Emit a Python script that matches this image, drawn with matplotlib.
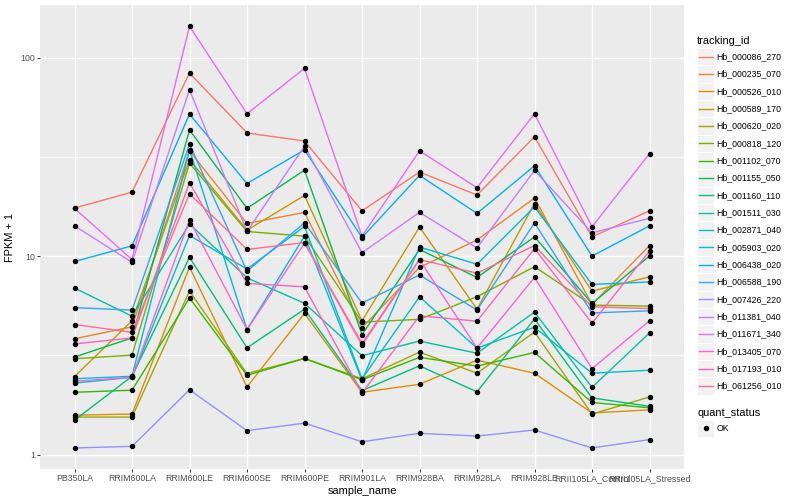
import matplotlib
matplotlib.use('Agg')
import matplotlib.pyplot as plt
from matplotlib.patches import Rectangle
from matplotlib.lines import Line2D
from matplotlib.ticker import FixedLocator, NullFormatter

plt.rcParams['font.family'] = ['Liberation Sans', 'DejaVu Sans']

samples = ['PB350LA', 'RRIM600LA', 'RRIM600LE', 'RRIM600SE', 'RRIM600PE', 'RRIM901LA',
           'RRIM928BA', 'RRIM928LA', 'RRIM928LE', 'RRII105LA_Control', 'RRII105LA_Stressed']

tracking_ids = ['Hb_000086_270', 'Hb_000235_070', 'Hb_000526_010', 'Hb_000589_170',
                'Hb_000620_020', 'Hb_000818_120', 'Hb_001102_070', 'Hb_001155_050',
                'Hb_001160_110', 'Hb_001511_030', 'Hb_002871_040', 'Hb_005903_020',
                'Hb_006438_020', 'Hb_006588_190', 'Hb_007426_220', 'Hb_011381_040',
                'Hb_011671_340', 'Hb_013405_070', 'Hb_017193_010', 'Hb_061256_010']

# FPKM + 1, one list per gene, in sample order
hb_000086_270 = [17.45, 21.0, 83.5, 41.7, 38.0, 16.9, 26.5, 20.3, 39.9, 12.5, 16.9]
hb_000235_070 = [3.83, 4.4, 33.9, 14.6, 16.6, 4.35, 8.77, 12.05, 19.6, 5.7, 11.3]
hb_000526_010 = [1.58, 1.60, 8.8, 2.19, 5.14, 2.06, 2.26, 2.99, 2.57, 1.62, 1.68]
hb_000589_170 = [2.47, 4.72, 30.6, 13.5, 20.2, 4.72, 14.0, 5.4, 18.4, 6.66, 7.86]
hb_000620_020 = [1.545, 1.545, 6.66, 2.56, 3.05, 2.41, 3.28, 2.57, 4.14, 1.60, 1.95]
hb_000818_120 = [3.04, 3.17, 29.4, 13.3, 12.6, 4.65, 4.8, 6.24, 8.84, 5.66, 5.6]
hb_001102_070 = [2.06, 2.11, 6.15, 2.51, 3.05, 2.38, 3.09, 2.79, 3.27, 1.83, 1.72]
hb_001155_050 = [3.1, 3.87, 43.2, 17.4, 27.1, 4.02, 10.8, 7.8, 12.5, 5.77, 10.0]
hb_001160_110 = [1.49, 2.48, 9.85, 3.45, 5.4, 2.1, 2.8, 2.07, 4.82, 1.93, 1.75]
hb_001511_030 = [6.9, 4.98, 14.5, 7.77, 5.78, 3.15, 3.73, 3.24, 5.22, 2.18, 4.1]
hb_002871_040 = [2.29, 2.45, 12.7, 8.6, 14.1, 2.41, 6.23, 3.44, 4.38, 2.57, 2.66]
hb_005903_020 = [2.41, 2.48, 34.3, 4.26, 12.6, 2.37, 11.1, 9.1, 17.7, 7.2, 7.4]
hb_006438_020 = [9.39, 11.26, 51.9, 23.2, 34.3, 12.4, 25.5, 16.4, 28.5, 10.0, 14.2]
hb_006588_190 = [5.5, 5.34, 36.6, 8.4, 14.7, 5.8, 8.03, 5.35, 14.7, 5.17, 5.3]
hb_007426_220 = [1.08, 1.10, 2.12, 1.32, 1.44, 1.16, 1.28, 1.24, 1.33, 1.08, 1.19]
hb_011381_040 = [14.2, 9.3, 68.8, 13.3, 35.8, 10.4, 16.6, 11.0, 27.0, 13.1, 15.5]
hb_011671_340 = [17.4, 9.6, 143.6, 52.1, 88.2, 12.6, 33.9, 22.1, 52.1, 14.05, 32.8]
hb_013405_070 = [2.34, 2.45, 15.2, 4.26, 11.6, 3.56, 9.6, 3.44, 7.8, 2.71, 4.72]
hb_017193_010 = [3.61, 3.87, 23.4, 7.28, 7.0, 2.04, 5.0, 4.7, 10.9, 4.59, 10.6]
hb_061256_010 = [4.52, 4.13, 20.6, 10.8, 11.7, 3.63, 9.6, 8.2, 11.3, 5.55, 5.44]

series = [hb_000086_270, hb_000235_070, hb_000526_010, hb_000589_170, hb_000620_020,
          hb_000818_120, hb_001102_070, hb_001155_050, hb_001160_110, hb_001511_030,
          hb_002871_040, hb_005903_020, hb_006438_020, hb_006588_190, hb_007426_220,
          hb_011381_040, hb_011671_340, hb_013405_070, hb_017193_010, hb_061256_010]

# ggplot2 default hue palette for 20 levels
colors = ['#F8766D', '#EA8331', '#D89000', '#C09B00', '#A3A500', '#7CAE00', '#39B600',
          '#00BB4E', '#00BF7D', '#00C1A3', '#00BFC4', '#00BAE0', '#00B0F6', '#35A2FF',
          '#9590FF', '#C77CFF', '#E76BF3', '#FA62DB', '#FF62BC', '#FF6C91']

W, H = 800, 500
fig = plt.figure(figsize=(8, 5), dpi=100)

def fx(px):
    return px / W

def fy(py):
    return 1 - py / H

# panel in pixels: left 40, right 684, top 5, bottom 469
ax = fig.add_axes([fx(40), fy(469.3), fx(684 - 40), (469.3 - 5) / H])
ax.set_facecolor('#EBEBEB')
for s in ax.spines.values():
    s.set_visible(False)

x = list(range(len(samples)))
for vals, c in zip(series, colors):
    ax.plot(x, vals, color=c, lw=1.0, zorder=3)
for vals in series:
    ax.plot(x, vals, ls='none', marker='o', ms=2.9, mfc='black', mec='black', zorder=4)

ax.set_yscale('log')
ax.set_ylim(0.843, 184)
ax.set_xlim(-0.6, len(samples) - 1 + 0.6)
ax.yaxis.set_major_locator(FixedLocator([1, 10, 100]))
ax.set_yticklabels(['1', '10', '100'])
ax.yaxis.set_minor_locator(FixedLocator([10 ** 0.5, 10 ** 1.5]))
ax.yaxis.set_minor_formatter(NullFormatter())
ax.set_xticks(x)
ax.set_xticklabels(samples)

ax.grid(which='major', color='white', lw=1.0, zorder=0)
ax.grid(which='minor', axis='y', color='white', lw=0.5, zorder=0)
ax.set_axisbelow(True)
ax.tick_params(axis='both', which='major', length=2.0, width=0.7, color='#333333',
               labelsize=6.3, labelcolor='#4D4D4D', pad=1.6)
ax.tick_params(axis='y', which='minor', length=0)

ax.set_xlabel('sample_name', fontsize=7.9, labelpad=2)
ax.set_ylabel('FPKM + 1', fontsize=7.9, labelpad=4)

# legend: tracking_id
fig.text(fx(697), fy(40.7), 'tracking_id', fontsize=7.9, va='center', ha='left')
key = 17.33
for i, (name, c) in enumerate(zip(tracking_ids, colors)):
    yc = 56.7 + i * key
    fig.add_artist(Rectangle((fx(697), fy(yc + key / 2)), key / W, key / H,
                             facecolor='#F2F2F2', edgecolor='white', lw=0.6,
                             transform=fig.transFigure))
    fig.add_artist(Line2D([fx(698.7), fx(712.6)], [fy(yc), fy(yc)], color=c, lw=1.0,
                          transform=fig.transFigure))
    fig.text(fx(716.5), fy(yc), name, fontsize=6.3, va='center', ha='left')

# legend: quant_status
fig.text(fx(697), fy(412.7), 'quant_status', fontsize=7.9, va='center', ha='left')
fig.add_artist(Rectangle((fx(697), fy(428.3 + key / 2)), key / W, key / H,
                         facecolor='#F2F2F2', edgecolor='white', lw=0.6,
                         transform=fig.transFigure))
fig.add_artist(Line2D([fx(705.6)], [fy(428.3)], ls='none', marker='o', ms=2.9,
                      mfc='black', mec='black', transform=fig.transFigure))
fig.text(fx(716.5), fy(428.3), 'OK', fontsize=6.3, va='center', ha='left')

fig.savefig('out.png', dpi=100)
